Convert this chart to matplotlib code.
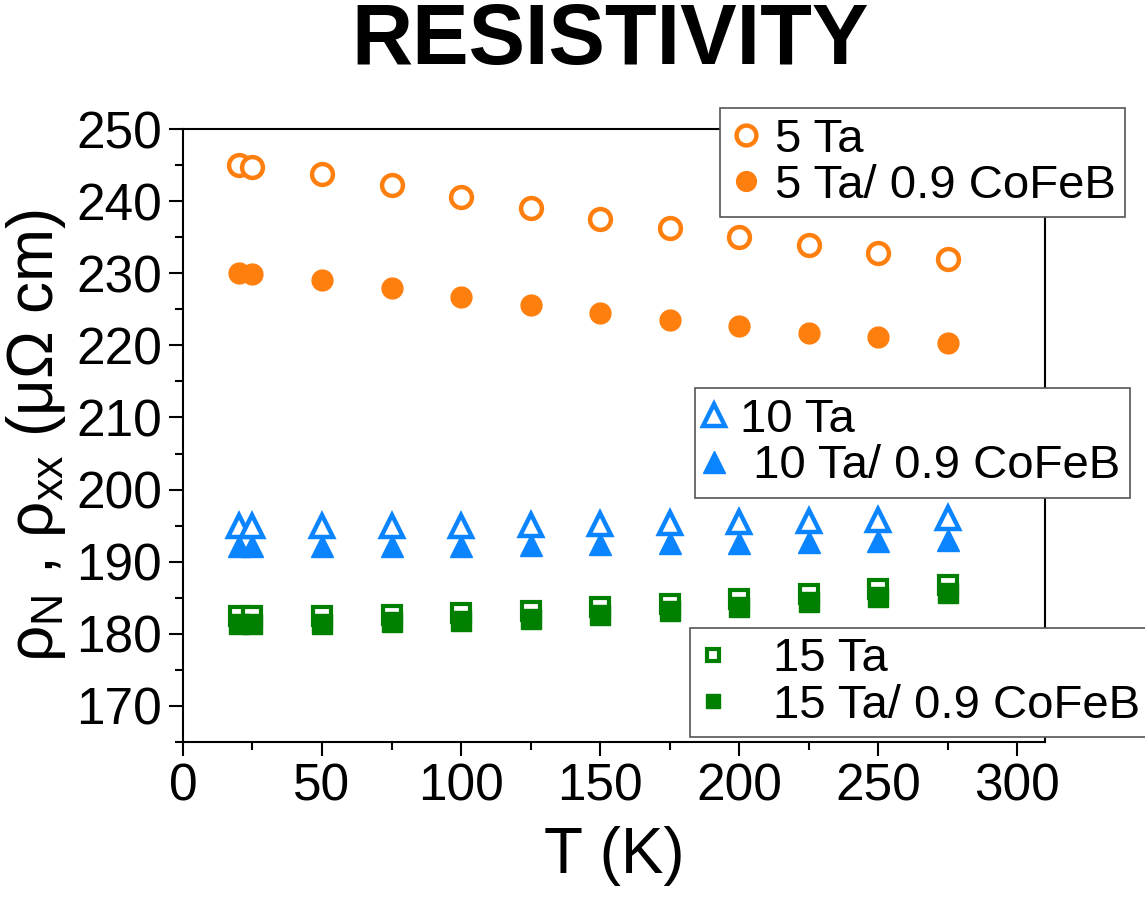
import matplotlib
matplotlib.use('Agg')
import matplotlib.pyplot as plt
from matplotlib.ticker import MultipleLocator

plt.rcParams['font.family'] = ['Liberation Sans', 'DejaVu Sans']
plt.rcParams['mathtext.default'] = 'regular'

T = [20, 25, 50, 75, 100, 125, 150, 175, 200, 225, 250, 275]

ta5 = [245.0, 244.8, 243.7, 242.2, 240.6, 239.0, 237.5, 236.3, 235.0, 233.9, 232.8, 232.0]
ta5_cofeb = [230.0, 229.9, 229.1, 228.0, 226.7, 225.6, 224.5, 223.5, 222.7, 221.7, 221.1, 220.3]
ta10 = [195.0, 195.0, 195.0, 195.0, 195.0, 195.1, 195.2, 195.3, 195.5, 195.6, 195.8, 196.0]
ta10_cofeb = [192.2, 192.2, 192.2, 192.2, 192.2, 192.3, 192.4, 192.6, 192.6, 192.7, 192.9, 193.0]
ta15 = [182.5, 182.5, 182.5, 182.6, 182.9, 183.2, 183.7, 184.2, 184.8, 185.5, 186.2, 186.8]
ta15_cofeb = [181.4, 181.4, 181.4, 181.6, 181.8, 182.1, 182.6, 183.1, 183.7, 184.4, 185.1, 185.6]

orange = '#ff7f0e'
blue = '#0a84ff'
green = '#007f00'

fig = plt.figure(figsize=(11.45, 9.01), dpi=100)
ax = fig.add_axes([0.1598, 0.1765, 0.7529, 0.6803])

ms = 15
o1, = ax.plot(T, ta5, 'o', ms=ms, mfc='white', mec=orange, mew=3.2, ls='none')
f1, = ax.plot(T, ta5_cofeb, 'o', ms=ms, color=orange, ls='none')
f2, = ax.plot(T, ta10_cofeb, '^', ms=ms + 1, color=blue, ls='none')
o2, = ax.plot(T, ta10, '^', ms=ms + 1, mfc='white', mec=blue, mew=3.2, ls='none')
o3, = ax.plot(T, ta15, 's', ms=ms - 2, mfc='white', mec=green, mew=3, ls='none')
f3, = ax.plot(T, ta15_cofeb, 's', ms=ms - 1, color=green, ls='none')

ax.set_xlim(0, 310)
ax.set_ylim(165, 250)
ax.xaxis.set_major_locator(MultipleLocator(50))
ax.xaxis.set_minor_locator(MultipleLocator(25))
ax.yaxis.set_major_locator(MultipleLocator(10))
ax.yaxis.set_minor_locator(MultipleLocator(5))
ax.tick_params(which='both', direction='out', width=1.5, top=False, right=False)
ax.tick_params(which='major', length=10, labelsize=37, pad=5)
ax.tick_params(which='minor', length=6)
for s in ax.spines.values():
    s.set_linewidth(1.5)

ax.set_xlabel('T (K)', fontsize=46, labelpad=10)
ax.set_ylabel(r'$\rho_N$ , $\rho_{xx}$ ($\mu\Omega$ cm)', fontsize=46, labelpad=6)
fig.text(0.533, 0.953, 'RESISTIVITY', ha='center', va='center',
         fontsize=61, fontweight='bold')

leg_kw = dict(fontsize=34, frameon=True, fancybox=False, framealpha=1,
              edgecolor='#555555', borderpad=0.2, borderaxespad=0,
              labelspacing=0.05, bbox_transform=fig.transFigure,
              loc='upper left')
l1 = ax.legend([o1, f1], ['5 Ta', '5 Ta/ 0.9 CoFeB'],
               bbox_to_anchor=(0.629, 0.880), markerscale=0.95,
               handlelength=0.7, handletextpad=0.25, **leg_kw)
ax.add_artist(l1)
l2 = ax.legend([o2, f2], ['10 Ta', ' 10 Ta/ 0.9 CoFeB'],
               bbox_to_anchor=(0.607, 0.569), markerscale=0.95,
               handlelength=0.4, handletextpad=0.35, **leg_kw)
ax.add_artist(l2)
l3 = ax.legend([o3, f3], ['15 Ta', '15 Ta/ 0.9 CoFeB'],
               bbox_to_anchor=(0.603, 0.303), markerscale=0.7,
               handlelength=0.55, handletextpad=1.0, **leg_kw)
for l in (l1, l2, l3):
    l.get_frame().set_linewidth(1.2)
    l.set_zorder(10)
    l.set_clip_on(False)

fig.savefig('out.png', dpi=100)
